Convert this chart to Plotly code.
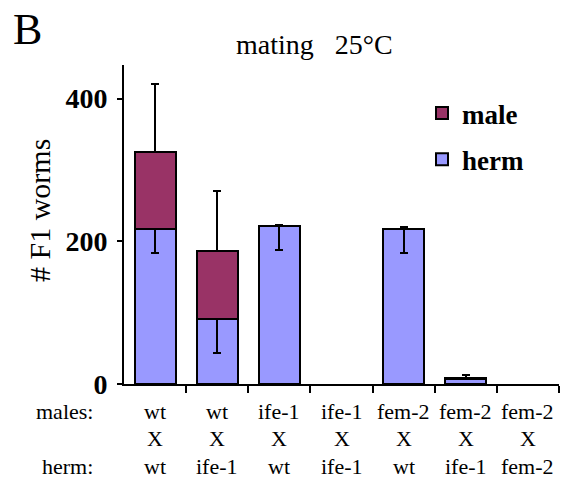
import plotly.graph_objects as go

# ---- data ----
males_row = ["wt", "wt", "ife-1", "ife-1", "fem-2", "fem-2", "fem-2"]
herm_row = ["wt", "ife-1", "wt", "ife-1", "wt", "ife-1", "fem-2"]
herm_vals = [217, 91, 222, 0, 217, 7, 0]
male_vals = [108, 95, 0, 0, 0, 1, 0]
herm_err_minus = [34, 48, 34, 0, 34, 0, 0]
herm_err_plus = [0, 0, 1, 0, 3, 0, 0]
male_err_plus = [95, 84, 0, 0, 0, 5, 0]
male_err_minus = [0, 0, 0, 0, 0, 0, 0]
y_ticks = [0, 200, 400]

W, H = 561, 481
L, R, T, B = 124, 559, 65, 384
YMAX = 447
SERIF = "Liberation Serif"

def px_x(p):
    return (p - L) / (R - L)

def px_y(p):
    return (B - p) / (B - T)

xs = list(range(len(males_row)))

def nz(vals):
    return [v if v != 0 else None for v in vals]

fig = go.Figure()
fig.add_trace(go.Bar(
    x=xs, y=nz(herm_vals), name="herm", legendrank=2, legendgroup="herm",
    marker=dict(color="#9999FF", line=dict(color="black", width=2)),
    width=0.66,
    error_y=dict(type="data", symmetric=False, array=herm_err_plus,
                 arrayminus=herm_err_minus, color="black", thickness=2, width=4),
))
fig.add_trace(go.Bar(
    x=xs, y=nz(male_vals), name="male", legendrank=1, legendgroup="male",
    marker=dict(color="#993366", line=dict(color="black", width=2)),
    width=0.66,
    error_y=dict(type="data", symmetric=False, array=male_err_plus,
                 arrayminus=male_err_minus, color="black", thickness=2, width=4),
))

annotations = []
rows_y = [411, 438.5, 466.5]
for i in xs:
    for txt, yy in ((males_row[i], rows_y[0]), ("X", rows_y[1]), (herm_row[i], rows_y[2])):
        annotations.append(dict(x=i, xref="x", y=px_y(yy), yref="paper", text=txt,
                                showarrow=False, xanchor="center", yanchor="middle",
                                font=dict(family=SERIF, size=22, color="black")))
annotations.append(dict(x=px_x(95), xref="paper", y=px_y(rows_y[0]), yref="paper",
                        text="males:", showarrow=False, xanchor="right", yanchor="middle",
                        font=dict(family=SERIF, size=22, color="black")))
annotations.append(dict(x=px_x(95), xref="paper", y=px_y(rows_y[2]), yref="paper",
                        text="herm:", showarrow=False, xanchor="right", yanchor="middle",
                        font=dict(family=SERIF, size=22, color="black")))
annotations.append(dict(x=px_x(27), xref="paper", y=px_y(29), yref="paper", text="B",
                        showarrow=False, xanchor="center", yanchor="middle",
                        font=dict(family=SERIF, size=44, color="black")))
annotations.append(dict(x=px_x(314), xref="paper", y=px_y(45), yref="paper",
                        text="mating\u00a0\u00a0\u00a025°C", showarrow=False,
                        xanchor="center", yanchor="middle",
                        font=dict(family=SERIF, size=28, color="black")))
annotations.append(dict(x=px_x(40), xref="paper", y=px_y(211), yref="paper",
                        text="# F1 worms", textangle=-90, showarrow=False,
                        xanchor="center", yanchor="middle",
                        font=dict(family=SERIF, size=30, color="black")))

fig.update_layout(
    width=W, height=H,
    margin=dict(l=L, r=W - R, t=T, b=H - B, pad=0),
    paper_bgcolor="white", plot_bgcolor="white",
    barmode="stack",
    showlegend=True,
    legend=dict(x=px_x(422), y=px_y(89), xanchor="left", yanchor="top",
                traceorder="grouped", tracegroupgap=8,
                font=dict(family=SERIF, size=27, color="black", weight="bold"),
                bgcolor="rgba(0,0,0,0)"),
    xaxis=dict(range=[-0.5, len(xs) - 0.5], tickmode="array",
               tickvals=[i + 0.5 for i in xs], showticklabels=False,
               ticks="outside", ticklen=7, tickwidth=2, tickcolor="black",
               showline=True, linecolor="black", linewidth=2,
               showgrid=False, zeroline=False, fixedrange=True),
    yaxis=dict(range=[0, YMAX], tickmode="array", tickvals=y_ticks,
               ticktext=[str(v) for v in y_ticks],
               ticks="outside", ticklen=5, tickwidth=2, tickcolor="black",
               showline=True, linecolor="black", linewidth=2,
               showgrid=False, zeroline=False,
               tickfont=dict(family=SERIF, size=28, color="black", weight="bold"),
               ticklabelstandoff=4, fixedrange=True),
    annotations=annotations,
)

fig.write_html("out.html")
